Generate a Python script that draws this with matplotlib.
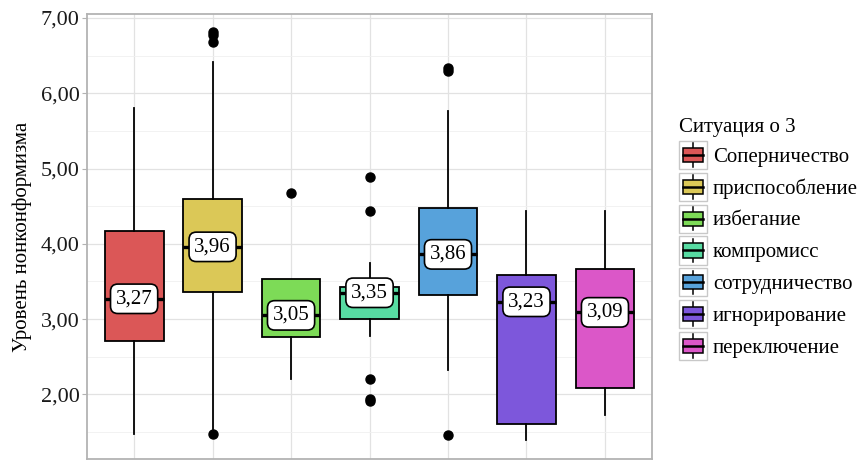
import numpy as np
import matplotlib
matplotlib.use("Agg")
import matplotlib.pyplot as plt
from matplotlib.patches import Rectangle, Patch
from matplotlib.lines import Line2D
from matplotlib.legend_handler import HandlerBase

plt.rcParams['font.family'] = ['Liberation Serif', 'DejaVu Serif']

# --- data ---
categories = ["Соперничество", "приспособление", "избегание", "компромисс",
              "сотрудничество", "игнорирование", "переключение"]
q1 = [2.71, 3.36, 2.76, 3.00, 3.32, 1.61, 2.08]
med = [3.27, 3.96, 3.05, 3.35, 3.86, 3.23, 3.09]
q3 = [4.17, 4.59, 3.53, 3.43, 4.47, 3.58, 3.66]
whis_lo = [1.48, 1.54, 2.20, 2.77, 2.33, 1.39, 1.73]
whis_hi = [5.80, 6.41, 3.53, 3.74, 5.77, 4.43, 4.43]
outliers = [
    [],
    [6.81, 6.78, 6.68, 1.47],
    [4.67],
    [4.89, 4.43, 2.21, 1.94, 1.91],
    [6.33, 6.30, 1.46],
    [],
    [],
]
med_labels = ["3,27", "3,96", "3,05", "3,35", "3,86", "3,23", "3,09"]
yticks = [2, 3, 4, 5, 6, 7]
ytick_labels = ["2,00", "3,00", "4,00", "5,00", "6,00", "7,00"]

colors = ["#DB5757", "#DBC857", "#7DDB57", "#57DBA2", "#57A2DB", "#7D57DB", "#DB57C8"]


class BoxHandler(HandlerBase):
    # small boxplot glyph for the legend keys
    def create_artists(self, legend, orig_handle, xdescent, ydescent,
                       width, height, fontsize, trans):
        x0, y0 = -xdescent, -ydescent
        cx = x0 + width / 2
        bg = Rectangle((x0, y0), width, height, fc="white", ec="#C8C8C8",
                       lw=1.0, transform=trans)
        wl = Line2D([cx, cx], [y0 + height * 0.08, y0 + height * 0.92],
                    color="black", lw=1.1, transform=trans)
        box = Rectangle((x0 + width * 0.15, y0 + height * 0.25), width * 0.7,
                        height * 0.5, fc=orig_handle.get_facecolor(),
                        ec="black", lw=1.1, transform=trans)
        ml = Line2D([x0 + width * 0.15, x0 + width * 0.85],
                    [y0 + height / 2, y0 + height / 2],
                    color="black", lw=1.8, transform=trans)
        return [bg, wl, box, ml]


fig = plt.figure(figsize=(8.65, 4.61), dpi=100)
ax = fig.add_axes([0.1006, 0.004, 0.6532, 0.966])

positions = np.arange(1, len(categories) + 1)
stats = []
for i in range(len(categories)):
    stats.append(dict(med=med[i], q1=q1[i], q3=q3[i], whislo=whis_lo[i],
                      whishi=whis_hi[i], fliers=outliers[i], label=categories[i]))

bp = ax.bxp(stats, positions=positions, widths=0.75, patch_artist=True,
            showcaps=False,
            boxprops=dict(edgecolor="black", linewidth=1.3),
            whiskerprops=dict(color="black", linewidth=1.3),
            medianprops=dict(color="black", linewidth=2.4),
            flierprops=dict(marker="o", markerfacecolor="black",
                            markeredgecolor="black", markersize=6.5))
for patch, c in zip(bp["boxes"], colors):
    patch.set_facecolor(c)
for b in bp["boxes"] + bp["whiskers"] + bp["medians"] + bp["fliers"]:
    b.set_zorder(3)

for x, m, lab in zip(positions, med, med_labels):
    ax.text(x, m, lab, ha="center", va="center", fontsize=15, zorder=5,
            bbox=dict(boxstyle="round,pad=0.25,rounding_size=0.35",
                      fc="white", ec="black", lw=1.2))

ax.set_xlim(0.4, 7.6)
ax.set_ylim(1.14, 7.055)
ax.set_xticks(positions)
ax.set_xticklabels([])
ax.tick_params(axis="x", length=0)
ax.set_yticks(yticks)
ax.set_yticklabels(ytick_labels, fontsize=16, color="#1A1A1A")
ax.set_yticks(np.arange(1.5, 7.0, 1.0), minor=True)
ax.tick_params(axis="y", which="major", length=3.5, width=0.8, color="#B3B3B3", pad=2)
ax.tick_params(axis="y", which="minor", length=0)
ax.grid(True, which="major", color="#E2E2E2", linewidth=0.9, zorder=0)
ax.grid(True, which="minor", axis="y", color="#F0F0F0", linewidth=0.6, zorder=0)
ax.set_axisbelow(True)
for s in ax.spines.values():
    s.set_color("#B3B3B3")
    s.set_linewidth(1.3)
ax.set_ylabel("Уровень нонконформизма", fontsize=15, labelpad=6)

handles = [Patch(facecolor=c) for c in colors]
leg = fig.legend(handles, categories, title="Ситуация о 3", loc="upper left",
                 bbox_to_anchor=(0.775, 0.762), frameon=False, fontsize=15,
                 title_fontsize=15, handler_map={Patch: BoxHandler()},
                 handlelength=1.35, handleheight=1.7, labelspacing=0.18,
                 handletextpad=0.3, borderaxespad=0, alignment="left")

fig.savefig("out.png", dpi=100)
